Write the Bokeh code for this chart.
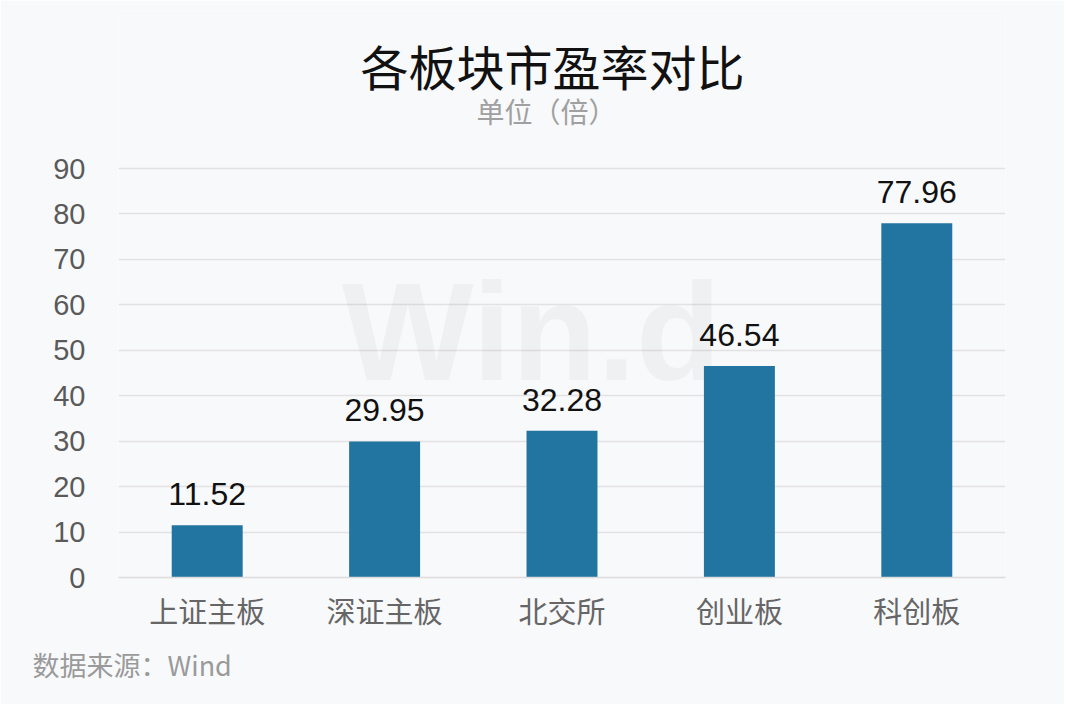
from bokeh.plotting import figure
from bokeh.models import ColumnDataSource, FactorRange, Range1d, FixedTicker, Label, Title
from bokeh.core.properties import value
from bokeh.embed import file_html
from bokeh.resources import INLINE

categories = ["上证主板", "深证主板", "北交所", "创业板", "科创板"]
pe_values = [11.52, 29.95, 32.28, 46.54, 77.96]
y_ticks = [0, 10, 20, 30, 40, 50, 60, 70, 80, 90]

title_text = "各板块市盈率对比"
subtitle_text = "单位（倍）"
source_text = "数据来源：Wind"

BG = "#f8f9fb"
BAR = "#2274a1"
CJK = "Noto Sans CJK SC"
NUM = "Liberation Sans"

# layout: the plot frame spans from 10px to 577px; the value axis tops out
# at 90 at 168px, the space above holds the title and subtitle
FRAME_TOP, FRAME_BOTTOM, GRID_TOP = 10, 577, 168
Y_MAX = 90 * (FRAME_BOTTOM - FRAME_TOP) / (FRAME_BOTTOM - GRID_TOP)

src = ColumnDataSource(dict(
    cat=categories,
    val=pe_values,
    lbl=["%.2f" % v for v in pe_values],
))

p = figure(
    x_range=FactorRange(factors=categories, range_padding=0),
    y_range=Range1d(0, Y_MAX),
    width=1064, height=704,
    output_backend="svg", toolbar_location=None,
    min_border_left=118, min_border_right=59,
    min_border_top=FRAME_TOP, min_border_bottom=704 - FRAME_BOTTOM,
    background_fill_color=BG, border_fill_color=BG,
)
p.outline_line_color = None

# watermark
p.add_layout(Label(
    x=413, y=246, x_units="screen", y_units="screen", text="Win.d",
    text_font=NUM, text_font_size="140px", text_font_style="bold",
    text_color="#000000", text_alpha=0.035,
    text_align="center", text_baseline="middle", level="underlay",
))

p.vbar(x="cat", top="val", width=0.4, source=src, color=BAR, line_color=None)

p.text(x="cat", y="val", text="lbl", source=src, y_offset=-31,
       text_align="center", text_baseline="alphabetic",
       text_font=value(NUM), text_font_size="32px", text_color="#111111")

# axes
p.yaxis.ticker = FixedTicker(ticks=y_ticks)
p.yaxis.axis_line_color = None
p.yaxis.major_tick_line_color = None
p.yaxis.minor_tick_line_color = None
p.yaxis.major_label_text_font = NUM
p.yaxis.major_label_text_font_size = "29px"
p.yaxis.major_label_text_color = "#5a5a5a"
p.yaxis.major_label_standoff = 27

p.xaxis.axis_line_color = "#dcdcdc"
p.xaxis.axis_line_width = 1.5
p.xaxis.major_tick_line_color = None
p.xaxis.minor_tick_line_color = None
p.xaxis.major_label_text_font = CJK
p.xaxis.major_label_text_font_size = "29px"
p.xaxis.major_label_text_color = "#666666"
p.xaxis.major_label_standoff = 5

p.xgrid.grid_line_color = None
p.ygrid.grid_line_color = "#e2e2e2"
p.ygrid.grid_line_width = 1.5

# title and subtitle (screen units relative to the frame's bottom-left)
p.add_layout(Label(
    x=242, y=FRAME_BOTTOM - 64, x_units="screen", y_units="screen",
    text=title_text, text_font=CJK, text_font_size="48px",
    text_color="#111111", text_align="left", text_baseline="middle",
))
p.add_layout(Label(
    x=358, y=FRAME_BOTTOM - 110, x_units="screen", y_units="screen",
    text=subtitle_text, text_font=CJK, text_font_size="28px",
    text_color="#a0a0a0", text_align="left", text_baseline="middle",
))

p.add_layout(Title(
    text=source_text, align="left", offset=-86, standoff=19,
    text_font=CJK, text_font_size="27px", text_font_style="normal",
    text_color="#9a9a9a",
), "below")

open("out.html", "w").write(file_html(p, INLINE))
